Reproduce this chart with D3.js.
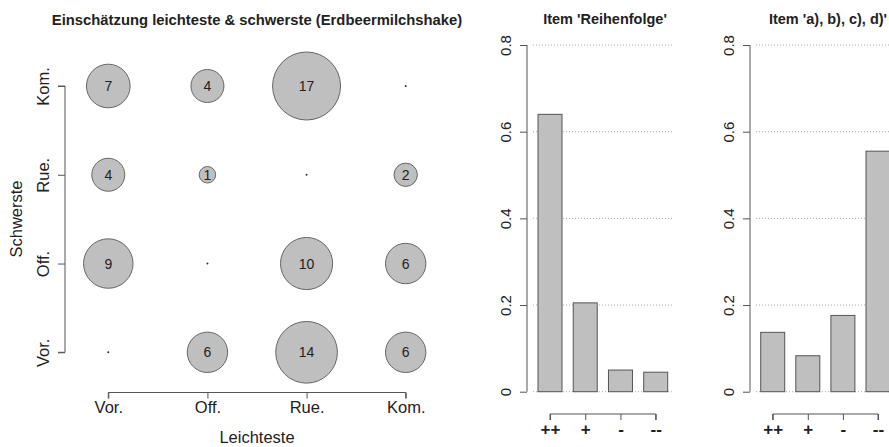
<!DOCTYPE html>
<html>
<head>
<meta charset="utf-8">
<script src="https://cdn.jsdelivr.net/npm/d3@7"></script>
<style>
body { margin: 0; background: #fff; }
svg { font-family: "Liberation Sans", Arial, sans-serif; }
.axis path, .axis line { stroke: #555; }
.axis text { fill: #222; }
</style>
</head>
<body>
<script>
var width = 889, height = 447;

// bubble matrix: rows = Schwerste, cols = Leichteste
var cats = ["Vor.", "Off.", "Rue.", "Kom."];
var countKom = [7, 4, 17, 0];
var countRue = [4, 1, 0, 2];
var countOff = [9, 0, 10, 6];
var countVor = [0, 6, 14, 6];

// bar charts
var barLabels = ["++", "+", "-", "--"];
var reihenfolge = [0.64, 0.205, 0.05, 0.045];
var abcd = [0.137, 0.083, 0.176, 0.555];
var yTicks = [0, 0.2, 0.4, 0.6, 0.8];

var svg = d3.select("body").append("svg")
    .attr("width", width)
    .attr("height", height);

// ---- bubble chart ----
var rows = [
    {name: "Kom.", values: countKom},
    {name: "Rue.", values: countRue},
    {name: "Off.", values: countOff},
    {name: "Vor.", values: countVor}
];
var cells = [];
rows.forEach(function(r) {
    r.values.forEach(function(v, i) {
        cells.push({x: cats[i], y: r.name, n: v});
    });
});

var xScale = d3.scalePoint().domain(cats).range([108.3, 405.7]);
var yScale = d3.scalePoint().domain(cats).range([352.3, 86]);
var rScale = d3.scaleSqrt().domain([0, 17]).range([0, 34]);

svg.append("g")
    .attr("class", "axis")
    .attr("transform", "translate(0,392.5)")
    .call(d3.axisBottom(xScale).tickSizeOuter(0).tickSize(6).tickPadding(3))
    .call(function(g) {
        g.select(".domain").attr("d", "M" + xScale.range()[0] + ",6V0H" + xScale.range()[1] + "V6");
        g.selectAll("text").attr("font-size", 16.5).attr("font-family", "Liberation Sans, Arial, sans-serif");
    });

svg.append("g")
    .attr("class", "axis")
    .attr("transform", "translate(65,0)")
    .call(d3.axisLeft(yScale).tickSize(7).tickPadding(0))
    .call(function(g) {
        g.select(".domain").attr("d", "M-7," + yScale.range()[0] + "H0V" + yScale.range()[1] + "H-7");
        g.selectAll("text")
            .attr("font-size", 16.5)
            .attr("font-family", "Liberation Sans, Arial, sans-serif")
            .attr("text-anchor", "middle")
            .attr("dy", 0)
            .attr("transform", "translate(-22,0) rotate(-90)")
            .attr("x", 0)
            .attr("y", 0)
            .attr("dominant-baseline", "central");
    });

svg.selectAll(".bubble")
    .data(cells)
    .enter()
    .append("circle")
    .attr("class", "bubble")
    .attr("cx", function(d) { return xScale(d.x); })
    .attr("cy", function(d) { return yScale(d.y); })
    .attr("r", function(d) { return d.n > 0 ? rScale(d.n) : 1; })
    .attr("fill", function(d) { return d.n > 0 ? "#bfbfbf" : "#333"; })
    .attr("stroke", function(d) { return d.n > 0 ? "#666" : "none"; })
    .attr("stroke-width", 1);

svg.selectAll(".bubble-label")
    .data(cells.filter(function(d) { return d.n > 0; }))
    .enter()
    .append("text")
    .attr("x", function(d) { return xScale(d.x); })
    .attr("y", function(d) { return yScale(d.y); })
    .attr("text-anchor", "middle")
    .attr("dominant-baseline", "central")
    .attr("font-size", 14)
    .attr("fill", "#222")
    .text(function(d) { return d.n; });

svg.append("text")
    .attr("x", 257)
    .attr("y", 20)
    .attr("text-anchor", "middle")
    .attr("dominant-baseline", "central")
    .attr("font-weight", "bold")
    .attr("font-size", 14.8)
    .attr("fill", "#222")
    .text("Einschätzung leichteste & schwerste (Erdbeermilchshake)");

svg.append("text")
    .attr("x", 257)
    .attr("y", 437)
    .attr("text-anchor", "middle")
    .attr("dominant-baseline", "central")
    .attr("font-size", 16.5)
    .attr("fill", "#222")
    .text("Leichteste");

svg.append("text")
    .attr("transform", "translate(16,219) rotate(-90)")
    .attr("text-anchor", "middle")
    .attr("dominant-baseline", "central")
    .attr("font-size", 16.5)
    .attr("fill", "#222")
    .text("Schwerste");

// ---- bar charts ----
function bar_chart(values, title, axisX, first, last, gridEnd, titleX) {
    var y = d3.scaleLinear().domain([0, 0.8]).range([391.7, 45]);
    var x = d3.scalePoint().domain(barLabels).range([first, last]);
    var bw = 24;

    svg.append("g")
        .selectAll("line")
        .data(yTicks)
        .enter()
        .append("line")
        .attr("x1", axisX + 6)
        .attr("x2", gridEnd)
        .attr("y1", function(d) { return y(d); })
        .attr("y2", function(d) { return y(d); })
        .attr("stroke", "#aaa")
        .attr("stroke-dasharray", "1,2");

    svg.append("g")
        .selectAll("rect")
        .data(values)
        .enter()
        .append("rect")
        .attr("x", function(d, i) { return x(barLabels[i]) - bw / 2; })
        .attr("width", bw)
        .attr("y", function(d) { return y(d); })
        .attr("height", function(d) { return y(0) - y(d); })
        .attr("fill", "#bfbfbf")
        .attr("stroke", "#555");

    svg.append("g")
        .attr("class", "axis")
        .attr("transform", "translate(" + axisX + ",0)")
        .call(d3.axisLeft(y).tickValues(yTicks).tickSize(7).tickSizeOuter(0)
            .tickFormat(function(d) { return d === 0 ? "0" : d3.format(".1f")(d); }))
        .call(function(g) {
            g.select(".domain").attr("d", "M0," + y(0) + "V" + y(0.8));
            g.selectAll("text")
                .attr("font-size", 15)
                .attr("font-family", "Liberation Sans, Arial, sans-serif")
                .attr("text-anchor", "middle")
                .attr("dominant-baseline", "central")
                .attr("x", 0)
                .attr("dy", 0)
                .attr("transform", "translate(-22,0) rotate(-90)");
        });

    svg.append("g")
        .attr("class", "axis")
        .attr("transform", "translate(0,414)")
        .call(d3.axisBottom(x).tickSize(6).tickPadding(3))
        .call(function(g) {
            g.select(".domain").attr("d", "M" + first + ",6V0H" + last + "V6");
            g.selectAll("text")
                .attr("font-size", 17)
                .attr("font-weight", "bold")
                .attr("font-family", "Liberation Sans, Arial, sans-serif");
        });

    svg.append("text")
        .attr("x", titleX)
        .attr("y", 19)
        .attr("text-anchor", "middle")
        .attr("dominant-baseline", "central")
        .attr("font-weight", "bold")
        .attr("font-size", 14.5)
        .attr("fill", "#222")
        .text(title);
}

bar_chart(reihenfolge, "Item 'Reihenfolge'", 527, 550, 655.7, 673, 605);
bar_chart(abcd, "Item 'a), b), c), d)'", 750, 772.7, 878, 900, 828);
</script>
</body>
</html>
